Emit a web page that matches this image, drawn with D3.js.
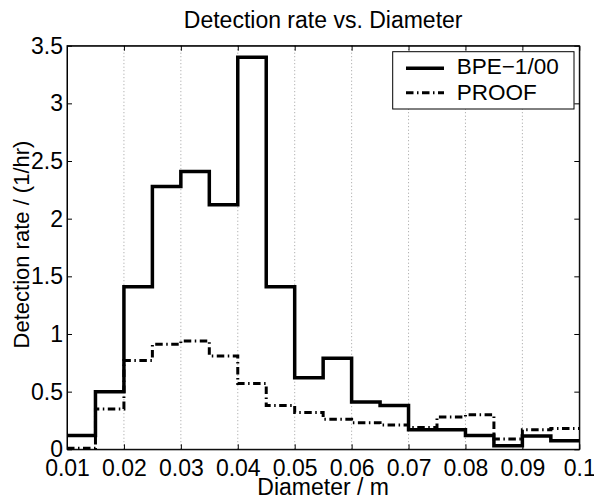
<!DOCTYPE html>
<html>
<head>
<meta charset="utf-8">
<script src="https://cdn.jsdelivr.net/npm/d3@7"></script>
<style>
  body { margin: 0; background: #fff; }
  svg { display: block; font-family: "Liberation Sans", Arial, Helvetica, sans-serif; }
</style>
</head>
<body>
<svg id="chart" width="594" height="497"></svg>
<script>
// bin left edges (m), each bin 0.005 wide
let binStarts = [0.010, 0.015, 0.020, 0.025, 0.030, 0.035, 0.040, 0.045, 0.050,
                 0.055, 0.060, 0.065, 0.070, 0.075, 0.080, 0.085, 0.090, 0.095];
let binEnd = 0.1;

let bpeRates = [0.12, 0.50, 1.41, 2.28, 2.41, 2.12, 3.40, 1.41, 0.62,
                0.79, 0.41, 0.38, 0.17, 0.17, 0.12, 0.03, 0.115, 0.075];

let proofRates = [0.01, 0.35, 0.77, 0.91, 0.94, 0.81, 0.57, 0.38, 0.32,
                  0.26, 0.23, 0.21, 0.19, 0.28, 0.30, 0.09, 0.17, 0.18];

let xTicks = [0.01, 0.02, 0.03, 0.04, 0.05, 0.06, 0.07, 0.08, 0.09, 0.1];
let yTicks = [0, 0.5, 1, 1.5, 2, 2.5, 3, 3.5];

let seriesNames = ["BPE\u22121/00", "PROOF"];

let margin = {top: 45.7, right: 14.7, bottom: 47.7, left: 67};
let width = 594 - margin.left - margin.right;
let height = 497 - margin.top - margin.bottom;

let svg = d3.select("#chart")
  .append("g")
  .attr("transform", `translate(${margin.left},${margin.top})`);

let xScale = d3.scaleLinear()
  .domain([0.01, 0.1])
  .range([0, width]);

let yScale = d3.scaleLinear()
  .domain([0, 3.5])
  .range([height, 0]);

// x grid, dotted
svg.selectAll(".grid")
  .data(xTicks.slice(1, -1))
  .join("line")
  .attr("class", "grid")
  .attr("x1", d => xScale(d))
  .attr("x2", d => xScale(d))
  .attr("y1", 0)
  .attr("y2", height)
  .attr("stroke", "#888")
  .attr("stroke-width", 0.8)
  .attr("stroke-dasharray", "1,2.5");

// step lines
function stairs(vals) {
  let pts = binStarts.map((x, i) => [x, vals[i]]);
  pts.push([binEnd, vals[vals.length - 1]]);
  return pts;
}

let line = d3.line()
  .x(d => xScale(d[0]))
  .y(d => yScale(d[1]))
  .curve(d3.curveStepAfter);

svg.append("path")
  .attr("d", line(stairs(proofRates)))
  .attr("fill", "none")
  .attr("stroke", "#000")
  .attr("stroke-width", 3)
  .attr("stroke-dasharray", "7.5,3.5,1.5,3.5");

svg.append("path")
  .attr("d", line(stairs(bpeRates)))
  .attr("fill", "none")
  .attr("stroke", "#000")
  .attr("stroke-width", 3.5)
  .attr("stroke-linejoin", "miter");

// axes, ticks pointing in on all four sides
let tickFont = 23;

svg.append("g")
  .attr("transform", `translate(0,${height})`)
  .call(d3.axisBottom(xScale)
    .tickValues(xTicks)
    .tickFormat(d3.format("~g"))
    .tickSizeInner(-5)
    .tickSizeOuter(0)
    .tickPadding(10));

svg.append("g")
  .call(d3.axisLeft(yScale)
    .tickValues(yTicks)
    .tickFormat(d3.format("~g"))
    .tickSizeInner(-5)
    .tickSizeOuter(0)
    .tickPadding(4));

svg.append("g")
  .call(d3.axisTop(xScale).tickValues(xTicks).tickFormat("").tickSizeInner(-5).tickSizeOuter(0));

svg.append("g")
  .attr("transform", `translate(${width},0)`)
  .call(d3.axisRight(yScale).tickValues(yTicks).tickFormat("").tickSizeInner(-5).tickSizeOuter(0));

svg.selectAll(".tick text")
  .style("font-size", tickFont + "px")
  .style("font-family", "'Liberation Sans', Arial, sans-serif")
  .attr("fill", "#000");

svg.selectAll(".domain, .tick line")
  .attr("stroke", "#000")
  .attr("stroke-width", 1);

// box
svg.append("rect")
  .attr("width", width)
  .attr("height", height)
  .attr("fill", "none")
  .attr("stroke", "#000")
  .attr("stroke-width", 1);

// title and axis labels
svg.append("text")
  .attr("x", width / 2)
  .attr("y", 28 - margin.top)
  .attr("text-anchor", "middle")
  .style("font-size", "23px")
  .text("Detection rate vs. Diameter");

svg.append("text")
  .attr("x", width / 2)
  .attr("y", 495 - margin.top)
  .attr("text-anchor", "middle")
  .style("font-size", "23px")
  .text("Diameter / m");

svg.append("text")
  .attr("transform", `translate(${29 - margin.left},${height / 2 - 3}) rotate(-90)`)
  .attr("text-anchor", "middle")
  .style("font-size", "22px")
  .text("Detection rate / (1/hr)");

// legend
let legend = svg.append("g")
  .attr("transform", `translate(${392.7 - margin.left},${51.7 - margin.top})`);

legend.append("rect")
  .attr("width", 181.3)
  .attr("height", 57.3)
  .attr("fill", "#fff")
  .attr("stroke", "#000")
  .attr("stroke-width", 1);

let legendStyles = [
  {w: 3.5, dash: null},
  {w: 3, dash: "7.5,3.5,1.5,3.5"}
];

legend.selectAll(".leg-line")
  .data(seriesNames)
  .join("line")
  .attr("class", "leg-line")
  .attr("x1", 13.3)
  .attr("x2", 51.3)
  .attr("y1", (d, i) => 16.6 + i * 24.5)
  .attr("y2", (d, i) => 16.6 + i * 24.5)
  .attr("stroke", "#000")
  .attr("stroke-width", (d, i) => legendStyles[i].w)
  .attr("stroke-dasharray", (d, i) => legendStyles[i].dash);

legend.selectAll(".leg-text")
  .data(seriesNames)
  .join("text")
  .attr("class", "leg-text")
  .attr("x", 64)
  .attr("y", (d, i) => 22.8 + i * 25.5)
  .style("font-size", "22.5px")
  .text(d => d);
</script>
</body>
</html>
